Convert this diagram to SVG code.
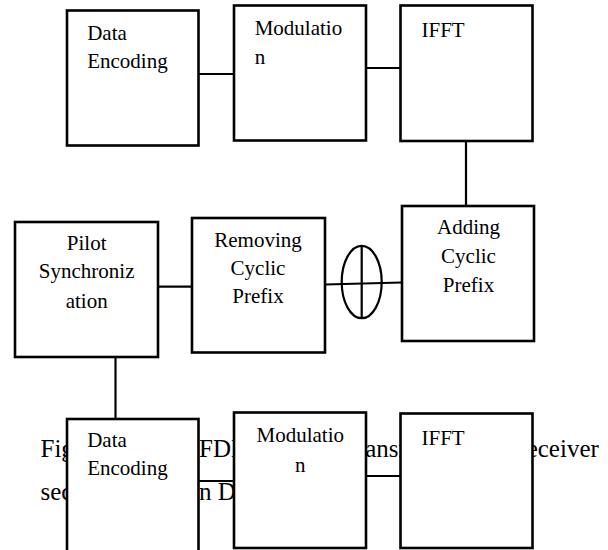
<svg xmlns="http://www.w3.org/2000/svg" width="608" height="550" viewBox="0 0 608 550">
<style>
.box{fill:#fff;stroke:#000;stroke-width:2.6}
.ln{fill:none;stroke:#000;stroke-width:2.2}
.lab{font-family:"Liberation Serif","Times New Roman",serif;font-size:21px;fill:#000}
.mid{text-anchor:middle}
.cap{font-family:"Liberation Serif","Times New Roman",serif;font-size:25px;fill:#000}
</style>
<rect width="608" height="550" fill="#fff"/>
<g id="caption">
<text class="cap" x="40.5" y="456.5">Fig.</text>
<text class="cap" x="181" y="456.5">OFDM</text>
<text class="cap" x="342.5" y="456.5">Transm</text>
<text class="cap" x="510" y="456.5">Receiver</text>
<text class="cap" x="40.5" y="500">sec</text>
<text class="cap" x="192" y="500">in D</text>
</g>
<g id="connectors">
<line class="ln" x1="198.5" y1="74" x2="234" y2="74"/>
<line class="ln" x1="366" y1="68" x2="400.5" y2="68"/>
<line class="ln" x1="466" y1="141" x2="466" y2="206"/>
<line class="ln" x1="158" y1="286.7" x2="192" y2="286.7"/>
<line class="ln" x1="325" y1="284.5" x2="402" y2="282.5"/>
<ellipse class="ln" cx="361.7" cy="282" rx="20" ry="36.2"/>
<line class="ln" x1="361.7" y1="245.8" x2="361.7" y2="318.2"/>
<line class="ln" x1="115.5" y1="357" x2="115.5" y2="419"/>
<line class="ln" x1="198.5" y1="481" x2="234" y2="481"/>
<line class="ln" x1="366" y1="476" x2="400.5" y2="476"/>
</g>
<g id="data-encoding-1">
<rect class="box" x="67" y="10.5" width="131.5" height="135"/>
<text class="lab" x="87.2" y="40">Data</text>
<text class="lab" x="87.2" y="68">Encoding</text>
</g>
<g id="modulation-1">
<rect class="box" x="234" y="5.5" width="132" height="135"/>
<text class="lab" x="254.7" y="35">Modulatio</text>
<text class="lab" x="254.7" y="63.5">n</text>
</g>
<g id="ifft-1">
<rect class="box" x="400.5" y="5.5" width="132" height="135.5"/>
<text class="lab" x="421.5" y="36.5">IFFT</text>
</g>
<g id="adding-cyclic-prefix">
<rect class="box" x="402" y="206" width="132" height="135"/>
<text class="lab mid" x="468.5" y="234">Adding</text>
<text class="lab mid" x="468.5" y="262.7">Cyclic</text>
<text class="lab mid" x="468.5" y="291.7">Prefix</text>
</g>
<g id="removing-cyclic-prefix">
<rect class="box" x="192" y="218" width="133" height="134.5"/>
<text class="lab mid" x="258" y="246.7">Removing</text>
<text class="lab mid" x="258" y="275">Cyclic</text>
<text class="lab mid" x="258" y="303.3">Prefix</text>
</g>
<g id="pilot-synchronization">
<rect class="box" x="15" y="222" width="143" height="135"/>
<text class="lab mid" x="86.7" y="250">Pilot</text>
<text class="lab mid" x="86.7" y="278.3">Synchroniz</text>
<text class="lab mid" x="86.7" y="308.3">ation</text>
</g>
<g id="data-encoding-2">
<rect class="box" x="67" y="419" width="131.5" height="140"/>
<text class="lab" x="87.2" y="447">Data</text>
<text class="lab" x="87.2" y="475">Encoding</text>
</g>
<g id="modulation-2">
<rect class="box" x="234" y="412.5" width="132" height="135.5"/>
<text class="lab mid" x="300.3" y="441.7">Modulatio</text>
<text class="lab mid" x="300.3" y="471.7">n</text>
</g>
<g id="ifft-2">
<rect class="box" x="400.5" y="413.5" width="132" height="134.5"/>
<text class="lab" x="421.5" y="445">IFFT</text>
</g>
</svg>
